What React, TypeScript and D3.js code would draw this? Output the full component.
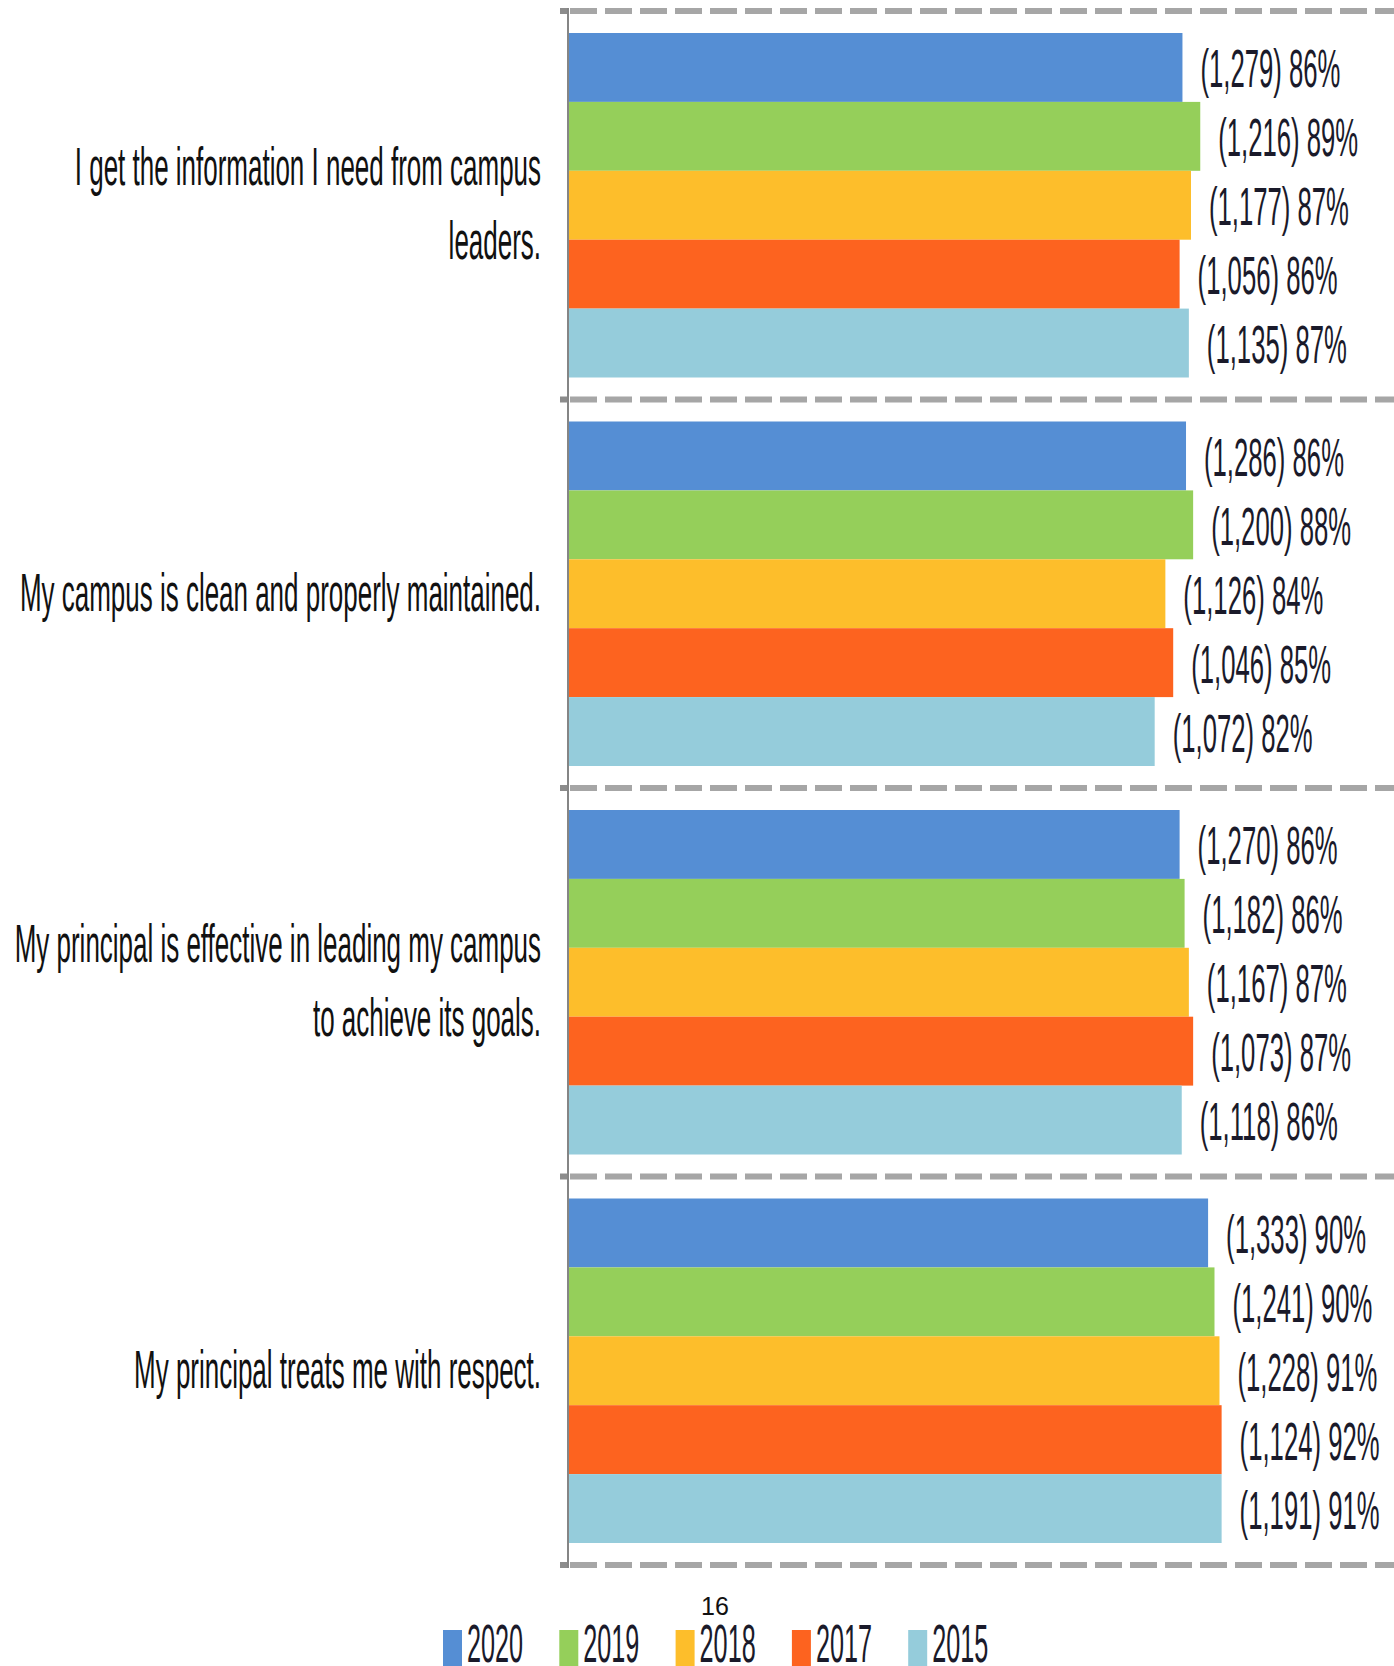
import React from "react";
import * as d3 from "d3";

const categories: string[][] = [
  ["I get the information I need from campus", "leaders."],
  ["My campus is clean and properly maintained."],
  ["My principal is effective in leading my campus", "to achieve its goals."],
  ["My principal treats me with respect."],
];

const years = ["2020", "2019", "2018", "2017", "2015"];
const colors = ["#558ed4", "#95cf5a", "#fdbe2b", "#fd631f", "#95ccdb"];

// respondent counts per year (one value per category)
const counts2020 = [1279, 1286, 1270, 1333];
const counts2019 = [1216, 1200, 1182, 1241];
const counts2018 = [1177, 1126, 1167, 1228];
const counts2017 = [1056, 1046, 1073, 1124];
const counts2015 = [1135, 1072, 1118, 1191];

// printed percentages
const pct2020 = [86, 86, 86, 90];
const pct2019 = [89, 88, 86, 90];
const pct2018 = [87, 84, 87, 91];
const pct2017 = [86, 85, 87, 92];
const pct2015 = [87, 82, 86, 91];

// bar lengths (unrounded share, estimated from bar ends)
const share2020 = [86.3, 86.8, 85.9, 89.9];
const share2019 = [88.8, 87.8, 86.6, 90.8];
const share2018 = [87.5, 83.9, 87.2, 91.5];
const share2017 = [85.9, 85.0, 87.8, 91.8];
const share2015 = [87.2, 82.4, 86.2, 91.8];

const countsBySeries = [counts2020, counts2019, counts2018, counts2017, counts2015];
const pctBySeries = [pct2020, pct2019, pct2018, pct2017, pct2015];
const shareBySeries = [share2020, share2019, share2018, share2017, share2015];

const W = 1394;
const H = 1666;
const FONT = "'Liberation Sans', Arial, sans-serif";

export default function App() {
  const x = d3.scaleLinear().domain([0, 100]).range([568, 1280]);
  const y = d3
    .scaleBand<number>()
    .domain(d3.range(categories.length))
    .range([11, 1565])
    .padding(0);
  const bw = y.bandwidth();
  const inner = d3
    .scaleBand<number>()
    .domain(d3.range(years.length))
    .range([22, bw - 22])
    .padding(0);
  const fmt = d3.format(",");
  const gridYs = [...categories.map((_, i) => y(i) as number), 1565];

  return (
    <svg
      width={W}
      height={H}
      style={{ position: "absolute", left: 0, top: 0, background: "#fff" }}
    >
      <rect x={0} y={0} width={W} height={H} fill="#fff" />
      {/* bars */}
      {categories.map((_, ci) =>
        years.map((yr, si) => {
          const y0 = (y(ci) as number) + (inner(si) as number);
          const v = shareBySeries[si][ci];
          return (
            <rect
              key={`b-${ci}-${si}`}
              x={x(0)}
              y={y0}
              width={x(v) - x(0)}
              height={inner.bandwidth()}
              fill={colors[si]}
            />
          );
        })
      )}
      {/* gridlines */}
      {gridYs.map((gy, i) => (
        <g key={`g-${i}`}>
          <line x1={560} x2={568} y1={gy} y2={gy} stroke="#8c8c8c" strokeWidth={6} />
          <line
            x1={570}
            x2={W}
            y1={gy}
            y2={gy}
            stroke="#a6a6a6"
            strokeWidth={6}
            strokeDasharray="27 8"
          />
        </g>
      ))}
      {/* axis */}
      <line x1={568} x2={568} y1={8} y2={1568} stroke="#858585" strokeWidth={2} />
      {/* value labels */}
      {categories.map((_, ci) =>
        years.map((yr, si) => {
          const yc =
            (y(ci) as number) + (inner(si) as number) + inner.bandwidth() / 2;
          const v = shareBySeries[si][ci];
          const label = `(${fmt(countsBySeries[si][ci])}) ${pctBySeries[si][ci]}%`;
          return (
            <text
              key={`t-${ci}-${si}`}
              transform={`translate(${x(v) + 18},${yc + 20}) scale(0.476,1)`}
              fontFamily={FONT}
              fontSize={54}
              fill="#1a1a2a"
            >
              {label}
            </text>
          );
        })
      )}
      {/* category labels */}
      {categories.map((lines, ci) => {
        const yc = (y(ci) as number) + bw / 2;
        const lh = 74;
        const first = yc - ((lines.length - 1) * lh) / 2 + 17;
        return lines.map((ln, li) => (
          <text
            key={`c-${ci}-${li}`}
            transform={`translate(541,${first + li * lh}) scale(0.481,1)`}
            textAnchor="end"
            fontFamily={FONT}
            fontSize={54}
            fill="#111"
          >
            {ln}
          </text>
        ));
      })}
      {/* page number */}
      <text x={701} y={1615} fontFamily={FONT} fontSize={25} fill="#111">
        16
      </text>
      {/* legend */}
      {years.map((yr, si) => {
        const lx = 443 + si * 116.3;
        return (
          <g key={`l-${si}`}>
            <rect x={lx} y={1630} width={19} height={40} fill={colors[si]} />
            <text
              transform={`translate(${lx + 24},1662) scale(0.467,1)`}
              fontFamily={FONT}
              fontSize={54}
              fill="#1a1a2a"
            >
              {yr}
            </text>
          </g>
        );
      })}
    </svg>
  );
}
